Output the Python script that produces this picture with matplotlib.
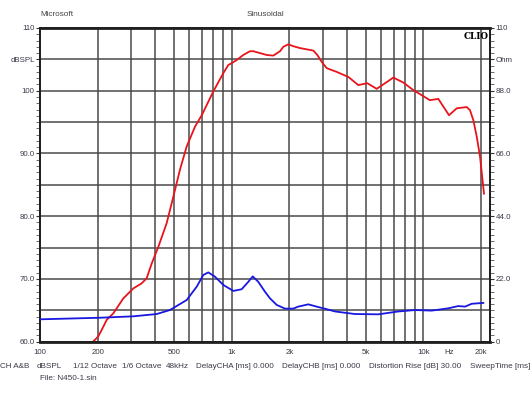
import matplotlib
matplotlib.use("Agg")
import matplotlib.pyplot as plt
from matplotlib.ticker import FixedLocator, NullFormatter

plt.rcParams['font.family'] = ['Liberation Sans', 'DejaVu Sans']

# SPL response (left axis, dBSPL)
spl_freq = [180, 189, 201, 210, 223, 241, 272, 307, 339, 360, 383, 414, 458, 496, 537,
            582, 644, 698, 802, 904, 960, 1000, 1062, 1149, 1246, 1296, 1405, 1522,
            1648, 1787, 1858, 1974, 2094, 2271, 2460, 2666, 2796, 2948, 3131, 3530,
            4059, 4576, 5099, 5705, 6971, 7862, 8859, 10810, 11960, 13600, 14920,
            16820, 17500, 18220, 18970, 19740, 20700]
spl_db = [58.5, 60.0, 60.8, 61.9, 63.5, 64.5, 66.9, 68.5, 69.3, 70.1, 72.5, 75.1, 78.9, 83.1, 87.4,
          91.1, 94.3, 96.1, 99.9, 102.8, 104.1, 104.4, 104.9, 105.7, 106.3, 106.3, 106.0, 105.7,
          105.6, 106.3, 107.0, 107.4, 107.1, 106.8, 106.6, 106.4, 105.7, 104.6, 103.6, 103.0,
          102.2, 100.9, 101.2, 100.3, 102.1, 101.3, 100.1, 98.5, 98.7, 96.1, 97.2,
          97.4, 96.9, 95.3, 92.7, 89.5, 83.6]

# impedance (right axis, Ohm)
imp_freq = [100, 205, 307, 406, 476, 582, 657, 711, 755, 818, 904, 1020, 1127, 1221,
            1287, 1376, 1492, 1584, 1717, 1895, 2094, 2223, 2509, 2774, 3131,
            3459, 4396, 5823, 7398, 9036, 11040, 13490, 15200, 16480, 17870, 20540]
imp_ohm = [7.85, 8.4, 8.9, 9.7, 11.1, 14.6, 19.3, 23.4, 24.3, 22.8, 19.9, 17.8, 18.4, 21.0,
           22.9, 21.0, 17.5, 15.2, 12.9, 11.6, 11.6, 12.3, 13.1, 12.3, 11.4,
           10.6, 9.7, 9.6, 10.6, 11.1, 10.9, 11.7, 12.5, 12.3, 13.3, 13.6]

x_ticks = [100, 200, 500, 1000, 2000, 5000, 10000, 13600, 20000]
x_labels = ['100', '200', '500', '1k', '2k', '5k', '10k', 'Hz', '20k']
x_grid = [200, 300, 400, 500, 600, 700, 800, 900, 1000, 2000, 3000, 4000,
          5000, 6000, 7000, 8000, 9000, 10000, 20000]
left_ticks = [60, 70, 80, 90, 100, 105, 110]
left_labels = ['60.0', '70.0', '80.0', '90.0', '100', 'dBSPL', '110']
right_ticks = [0, 22, 44, 66, 88, 99, 110]
right_labels = ['0', '22.0', '44.0', '66.0', '88.0', 'Ohm', '110']

footer = [(0, 'CH A&B'), (37, 'dBSPL'), (72.7, '1/12 Octave'), (122, '1/6 Octave'),
          (166, '48kHz'), (196, 'DelayCHA [ms] 0.000'), (282, 'DelayCHB [ms] 0.000'),
          (369, 'Distortion Rise [dB] 30.00'), (470, 'SweepTime [ms]')]

W, H = 530, 398
txt = '#3a3a48'
fs = 5.9
tfs = 5.7

fig = plt.figure(figsize=(W / 100, H / 100), dpi=100)
ax = fig.add_axes([40 / W, 1 - 341.7 / H, 450 / W, 313.7 / H])
ax.set_xscale('log')
ax.set_xlim(100, 22250)
ax.set_ylim(60, 110)

for f in x_grid:
    ax.axvline(f, color='#4a4a4a', lw=1.1, zorder=1)
for v in range(65, 110, 5):
    ax.axhline(v, color='#4a4a4a', lw=1.1, zorder=1)

ax.plot(spl_freq, spl_db, color='#e8141b', lw=1.3, zorder=3)

ax.xaxis.set_major_locator(FixedLocator(x_ticks))
ax.set_xticklabels(x_labels)
ax.xaxis.set_minor_locator(FixedLocator([]))
ax.xaxis.set_minor_formatter(NullFormatter())
ax.tick_params(axis='x', length=0, pad=5, labelsize=tfs, labelcolor=txt)

ax.set_yticks(left_ticks)
ax.set_yticklabels(left_labels)
ax.yaxis.set_minor_locator(FixedLocator(range(60, 111)))
ax.tick_params(axis='y', which='major', length=3, width=0.8, pad=0.8,
               labelsize=tfs, labelcolor=txt, color='#333333')
ax.tick_params(axis='y', which='minor', length=3, width=0.6, color='#555555')

ax2 = ax.twinx()
ax2.set_ylim(0, 110)
ax2.plot(imp_freq, imp_ohm, color='#1818e0', lw=1.3, zorder=3)
ax2.set_yticks(right_ticks)
ax2.set_yticklabels(right_labels)
ax2.yaxis.set_minor_locator(FixedLocator([i * 2.2 for i in range(51)]))
ax2.tick_params(axis='y', which='major', length=3, width=0.8, pad=1.2,
                labelsize=tfs, labelcolor=txt, color='#333333')
ax2.tick_params(axis='y', which='minor', length=3, width=0.6, color='#555555')

for a in (ax, ax2):
    for s in a.spines.values():
        s.set_color('#202020')
        s.set_linewidth(1.4)
ax.spines['top'].set_linewidth(2.0)
ax.spines['bottom'].set_linewidth(2.0)

ax2.text(0.997, 0.988, 'CLIO', transform=ax.transAxes, ha='right', va='top',
         fontsize=6.3, fontweight='bold', family='DejaVu Serif', color='black')

fig.text(40 / W, 1 - 14 / H, 'Microsoft', ha='left', va='center', fontsize=fs, color='#444444')
fig.text(247 / W, 1 - 14 / H, 'Sinusoidal', ha='left', va='center', fontsize=fs, color='#444444')
for xp, s in footer:
    fig.text(xp / W, 1 - 366 / H, s, ha='left', va='center', fontsize=fs, color=txt)
fig.text(40 / W, 1 - 379 / H, 'File: N450-1.sin', ha='left', va='center', fontsize=fs, color=txt)

fig.savefig('out.png', dpi=100)
